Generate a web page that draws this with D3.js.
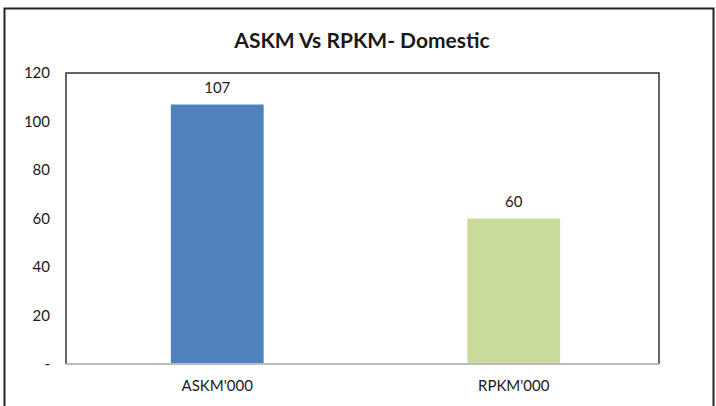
<!DOCTYPE html>
<html>
<head>
<meta charset="utf-8">
<script src="https://cdn.jsdelivr.net/npm/d3@7"></script>
<style>
  body { margin: 0; background: #fff; }
  text { font-family: Lato, "Open Sans", sans-serif; fill: #1a1a1a; }
</style>
</head>
<body>
<svg id="chart" width="716" height="406"></svg>
<script>
const categories = ["ASKM'000", "RPKM'000"];
const values = [107, 60];
const colors = ["#4f81bd", "#c9dc9b"];
const yTicks = [0, 20, 40, 60, 80, 100, 120];
const title = "ASKM Vs RPKM- Domestic";

const $svg = d3.select("#chart");
const plot = { left: 66, right: 659, top: 73, bottom: 364 };

// outer chart border
$svg.append("rect")
  .attr("x", 4.5).attr("y", 8.5)
  .attr("width", 709).attr("height", 410)
  .attr("fill", "none").attr("stroke", "#222").attr("stroke-width", 2);

$svg.append("text")
  .attr("x", 362).attr("y", 48)
  .attr("text-anchor", "middle")
  .attr("font-size", 21).attr("font-weight", "bold")
  .text(title);

const x = d3.scaleBand().domain(categories).range([plot.left, plot.right]);
const y = d3.scaleLinear().domain([0, 120]).range([plot.bottom, plot.top]);
const barW = x.bandwidth() * 0.313;
const shift = 3;

// plot area border
$svg.append("path")
  .attr("d", `M${plot.left},${plot.bottom}V${plot.top}H${plot.right}V${plot.bottom}`)
  .attr("fill", "none").attr("stroke", "#333").attr("stroke-width", 1.5);

$svg.selectAll(".bar")
  .data(values)
  .join("rect")
  .attr("class", "bar")
  .attr("x", (d, i) => x(categories[i]) + x.bandwidth() / 2 - barW / 2 + shift)
  .attr("y", d => y(d))
  .attr("width", barW)
  .attr("height", d => y(0) - y(d))
  .attr("fill", (d, i) => colors[i]);

$svg.selectAll(".val")
  .data(values)
  .join("text")
  .attr("class", "val")
  .attr("x", (d, i) => x(categories[i]) + x.bandwidth() / 2 + shift)
  .attr("y", d => y(d) - 12)
  .attr("text-anchor", "middle")
  .attr("font-size", 15)
  .text(d => d);

// x axis line
$svg.append("line")
  .attr("x1", plot.left).attr("x2", plot.right)
  .attr("y1", plot.bottom).attr("y2", plot.bottom)
  .attr("stroke", "#bbb").attr("stroke-width", 2);

$svg.selectAll(".ytick")
  .data(yTicks)
  .join("text")
  .attr("class", "ytick")
  .attr("x", 50)
  .attr("y", d => y(d) + 5)
  .attr("text-anchor", "end")
  .attr("font-size", 15)
  .text(d => d === 0 ? "-" : d);

$svg.selectAll(".xlab")
  .data(categories)
  .join("text")
  .attr("class", "xlab")
  .attr("x", d => x(d) + x.bandwidth() / 2 + shift)
  .attr("y", 391)
  .attr("text-anchor", "middle")
  .attr("font-size", 15)
  .text(d => d);
</script>
</body>
</html>
